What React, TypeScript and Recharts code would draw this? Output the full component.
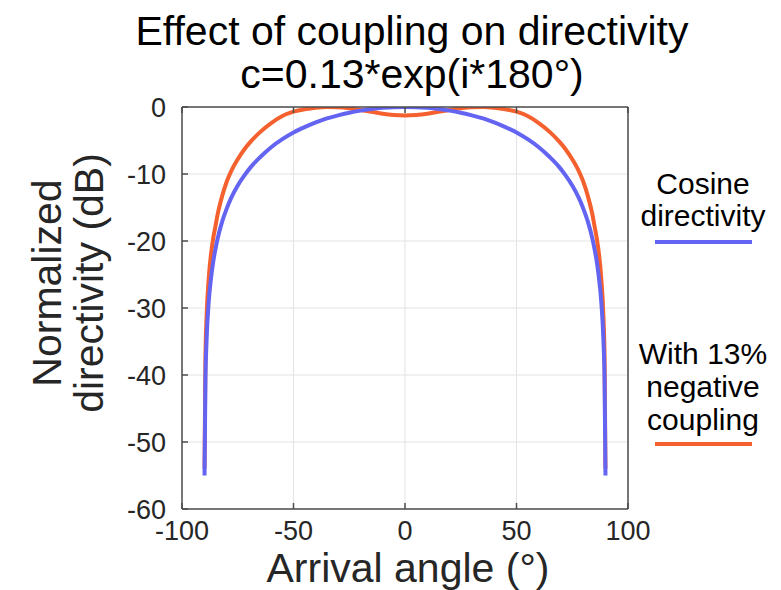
import { LineChart, Line, XAxis, YAxis, CartesianGrid, Legend } from "recharts";

// arrival angle (deg) and normalized directivity (dB)
const angles = [
  -89.9, -89.5, -89, -88, -87, -86, -85, -84, -82, -80, -78, -75, -72, -69, -65, -60, -55, -50,
  -45, -40, -35, -30, -25, -20, -15, -10, -5, 0, 5, 10, 15, 20, 25, 30, 35, 40, 45, 50, 55, 60,
  65, 69, 72, 75, 78, 80, 82, 84, 85, 86, 87, 88, 89, 89.5, 89.9,
];
const cosineDb = [
  -55, -41, -35, -29, -25.6, -23.1, -21.2, -19.6, -17.1, -15.2, -13.6, -11.7, -10.2, -8.9, -7.5,
  -6.0, -4.8, -3.8, -3.0, -2.3, -1.7, -1.25, -0.85, -0.54, -0.3, -0.13, -0.03, 0, -0.03, -0.13,
  -0.3, -0.54, -0.85, -1.25, -1.7, -2.3, -3.0, -3.8, -4.8, -6.0, -7.5, -8.9, -10.2, -11.7, -13.6,
  -15.2, -17.1, -19.6, -21.2, -23.1, -25.6, -29, -35, -41, -55,
];
const coupledDb = [
  -54, -37.5, -31.5, -25.5, -22, -19.6, -17.8, -16.0, -13.3, -11.2, -9.6, -7.8, -6.3, -5.1, -3.75,
  -2.4, -1.35, -0.7, -0.33, -0.1, 0, -0.04, -0.2, -0.45, -0.72, -1.0, -1.18, -1.25, -1.18, -1.0,
  -0.72, -0.45, -0.2, -0.04, 0, -0.1, -0.33, -0.7, -1.35, -2.4, -3.75, -5.1, -6.3, -7.8, -9.6,
  -11.2, -13.3, -16.0, -17.8, -19.6, -22, -25.5, -31.5, -37.5, -54,
];

const xTicks = [-100, -50, 0, 50, 100];
const yTicks = [-60, -50, -40, -30, -20, -10, 0];

const titleLines = ["Effect of coupling on directivity", "c=0.13*exp(i*180°)"];
const yLabelLines = ["Normalized", "directivity (dB)"];
const xLabel = "Arrival angle (°)";
const cosineName = ["Cosine", "directivity"];
const coupledName = ["With 13%", "negative", "coupling"];

const BLUE = "#6464F2";
const ORANGE = "#F4602E";
const AXIS = "#4d4d4d";
const FONT = "'Liberation Sans', Arial, Helvetica, sans-serif";

const data = angles.map((a, i) => ({ angle: a, cosine: cosineDb[i], coupled: coupledDb[i] }));

function SideLegend() {
  return (
    <svg width={150} height={300} style={{ fontFamily: FONT }}>
      {cosineName.map((t, i) => (
        <text key={t} x={73} y={34 + i * 32} fontSize={30} textAnchor="middle" fill="#000">
          {t}
        </text>
      ))}
      <line x1={25} x2={122} y1={82} y2={82} stroke={BLUE} strokeWidth={4} />
      {coupledName.map((t, i) => (
        <text key={t} x={73} y={204 + i * 33} fontSize={30} textAnchor="middle" fill="#000">
          {t}
        </text>
      ))}
      <line x1={25} x2={122} y1={284} y2={284} stroke={ORANGE} strokeWidth={4} />
    </svg>
  );
}

// top/right axes only carry tick marks, no labels
const NoLabel = () => <g />;

export default function App() {
  const tickStyle = { fill: "#262626", fontSize: 27, fontFamily: FONT };
  return (
    <div style={{ position: "absolute", left: 0, top: 0, width: 781, height: 590, background: "#fff", fontFamily: FONT }}>
      <LineChart
        width={781}
        height={590}
        data={data}
        margin={{ top: 106, right: 152, bottom: 80, left: 181 }}
      >
        <CartesianGrid xAxisId="b" yAxisId="l" stroke="#e3e3e3" strokeWidth={1} />
        <XAxis
          xAxisId="b"
          type="number"
          dataKey="angle"
          domain={[-100, 100]}
          ticks={xTicks}
          height={1}
          stroke={AXIS}
          strokeWidth={1.5}
          tickSize={-6}
          tickMargin={18}
          tick={tickStyle}
          interval={0}
          allowDataOverflow
        />
        <XAxis
          xAxisId="t"
          orientation="top"
          type="number"
          dataKey="angle"
          domain={[-100, 100]}
          ticks={xTicks}
          height={1}
          stroke={AXIS}
          strokeWidth={1.5}
          tickSize={-6}
          tick={NoLabel}
          interval={0}
        />
        <YAxis
          yAxisId="l"
          type="number"
          domain={[-60, 0]}
          ticks={yTicks}
          width={1}
          stroke={AXIS}
          strokeWidth={1.5}
          tickSize={-6}
          tickMargin={22}
          tick={tickStyle}
          interval={0}
          allowDataOverflow
        />
        <YAxis
          yAxisId="r"
          orientation="right"
          type="number"
          domain={[-60, 0]}
          ticks={yTicks}
          width={1}
          stroke={AXIS}
          strokeWidth={1.5}
          tickSize={-6}
          tick={NoLabel}
          interval={0}
        />
        <Legend
          layout="vertical"
          align="center"
          verticalAlign="middle"
          wrapperStyle={{ position: "absolute", left: 630, top: 160, width: 150, height: 300 }}
          content={() => <SideLegend />}
        />
        <Line
          xAxisId="b"
          yAxisId="l"
          type="monotone"
          dataKey="coupled"
          name="With 13% negative coupling"
          stroke={ORANGE}
          strokeWidth={4}
          dot={false}
          isAnimationActive={false}
        />
        <Line
          xAxisId="b"
          yAxisId="l"
          type="monotone"
          dataKey="cosine"
          name="Cosine directivity"
          stroke={BLUE}
          strokeWidth={4}
          dot={false}
          isAnimationActive={false}
        />
      </LineChart>
      <svg
        width={781}
        height={590}
        style={{ position: "absolute", left: 0, top: 0, pointerEvents: "none", fontFamily: FONT }}
      >
        {titleLines.map((t, i) => (
          <text key={t} x={412} y={45 + i * 43} fontSize={41} textAnchor="middle" fill="#000">
            {t}
          </text>
        ))}
        {yLabelLines.map((t, i) => (
          <text
            key={t}
            x={0}
            y={0}
            fontSize={41}
            textAnchor="middle"
            fill="#262626"
            transform={`translate(${61 + i * 42}, 283) rotate(-90)`}
          >
            {t}
          </text>
        ))}
        <text x={408} y={582} fontSize={41} textAnchor="middle" fill="#262626">
          {xLabel}
        </text>
      </svg>
    </div>
  );
}
